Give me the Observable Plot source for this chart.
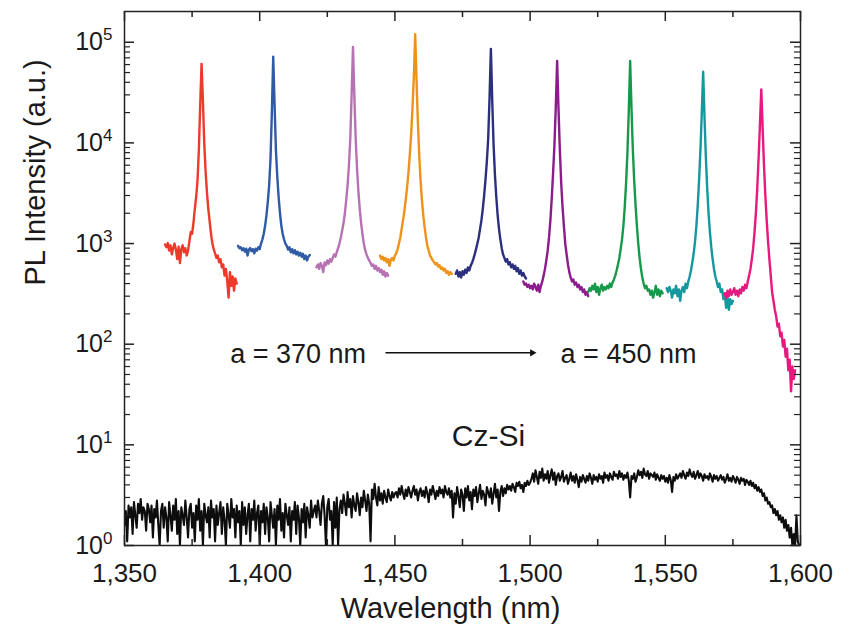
<!DOCTYPE html>
<html><head><meta charset="utf-8">
<script src="https://cdn.jsdelivr.net/npm/d3@7"></script>
<script src="https://cdn.jsdelivr.net/npm/@observablehq/plot@0.6"></script>
<style>body{margin:0;background:#fff} svg{display:block}</style>
</head><body><div id="chart"></div>
<script>
// ---------- data ----------
const xTicks = [1350, 1400, 1450, 1500, 1550, 1600];
const xMinorTicks = [1375, 1425, 1475, 1525, 1575];
const yTicks = [1, 10, 100, 1000, 10000, 100000];
const yMinorTicks = [2,3,4,5,6,7,8,9,20,30,40,50,60,70,80,90,200,300,400,500,600,700,800,900,
  2000,3000,4000,5000,6000,7000,8000,9000,20000,30000,40000,50000,60000,70000,80000,90000];

const xLabel = "Wavelength (nm)";
const yLabel = "PL Intensity (a.u.)";

// lattice constant of each photonic crystal cavity spectrum
const seriesNames = ["a = 370 nm","a = 380 nm","a = 390 nm","a = 400 nm","a = 410 nm","a = 420 nm","a = 430 nm","a = 440 nm","a = 450 nm"];
const seriesStart = [1365, 1392, 1421, 1444.5, 1472.5, 1497.5, 1521.5, 1550.5, 1572]; // nm, first sample
const sampleStep = 0.5; // nm

const pl370 = [980,920,1010,850,960,780,900,1000,870,700,930,640,880,960,820,900,760,850,1050,1300,1250,1600,2200,2900,4200,8500,24000,61000,26000,9800,5200,3200,2200,1650,1250,1000,880,800,720,760,650,700,580,620,480,560,420,290,520,380,470,340,450,400];
const pl380 = [950,900,920,860,900,830,890,760,870,900,840,880,800,890,850,920,880,1000,1100,1250,1500,1900,2600,3800,7000,20000,72000,24000,8500,4600,2900,2000,1500,1250,1100,1000,950,870,920,820,880,800,860,780,830,760,810,740,790,700,760,680,740,770];
const pl390 = [580,620,560,640,600,520,650,610,680,630,700,660,720,780,740,820,900,1000,1150,1350,1600,2000,2700,3800,6000,11000,30000,90000,30000,11000,5500,3300,2200,1600,1250,1000,860,780,720,680,640,600,620,560,600,540,570,520,550,490,530,470,510,480];
const pl400 = [760,700,740,680,720,650,700,600,690,720,680,760,800,880,1000,1150,1400,1700,2100,2700,3600,5000,7500,12000,22000,45000,120000,42000,16000,7500,4200,2700,1900,1450,1150,950,850,760,720,680,650,620,640,590,610,560,580,540,560,510,530,490,520,500];
const pl410 = [500,540,470,520,460,530,490,550,510,580,540,600,640,700,780,880,1000,1150,1400,1700,2200,3000,4300,6500,11000,28000,86000,26000,9500,4800,2900,1900,1400,1100,900,780,720,660,700,620,650,580,620,560,600,530,570,500,540,480,510,470,450];
const pl420 = [420,390,400,370,390,360,380,350,400,370,340,390,330,380,420,480,560,680,850,1150,1700,2800,5000,9500,23000,65000,22000,8500,4000,2300,1500,1000,780,620,520,460,420,440,390,410,370,390,350,370,330,350,310,330,300];
const pl430 = [330,360,340,380,350,400,330,370,310,360,390,340,370,350,380,360,400,370,410,440,480,540,620,720,880,1100,1500,2300,4000,8000,21000,65000,22000,8500,4200,2400,1500,1000,720,560,460,400,360,380,340,350,310,340,290,330,380,310,350,300,340,320];
const pl440 = [360,330,370,340,290,350,320,380,300,350,270,340,370,330,400,360,420,470,540,650,800,1050,1500,2400,4300,8500,20000,51000,18000,7200,3500,2000,1300,920,700,560,470,420,370,400,330,350,280,320,230,300,220,280,250,270];
const pl450 = [320,290,340,300,350,310,330,360,310,340,300,350,320,370,340,390,360,420,480,560,700,900,1300,2000,3500,7000,15000,34000,14000,6000,3000,1700,1050,700,480,330,270,220,190,150,160,120,130,95,110,75,90,55,70,34,60,45,55];
const seriesValues = [pl370, pl380, pl390, pl400, pl410, pl420, pl430, pl440, pl450];
const seriesColors = ["#ee3a2a","#2f5aa6","#b772b3","#ef9219","#2b2f7e","#8c1c8c","#17994b","#15979e","#e8187f"];

// unpatterned Cz-Si reference, 1350 to 1600 nm every 0.5 nm
const czStart = 1350;
const czSi = [
1.6,2.2,1.1,2.5,1.9,2.4,1.3,2.7,2.0,1.5,2.6,2.1,2.9,1.8,2.4,2.2,1.4,2.6,2.3,1.7,
2.5,1.2,2.3,1.9,2.8,1.6,1.0,2.2,2.6,1.5,2.4,1.9,1.1,2.7,2.0,1.4,2.5,1.8,2.9,1.3,
2.2,1.0,2.4,2.0,1.6,2.8,1.9,1.2,2.3,2.6,1.5,2.1,1.1,2.5,1.8,2.9,1.4,2.2,1.0,2.6,
2.0,1.7,2.4,1.2,2.8,1.9,2.3,1.1,2.5,1.6,2.1,2.7,1.3,2.4,1.8,1.0,2.6,2.0,1.5,2.9,
1.9,2.3,1.2,2.5,1.7,2.2,1.0,2.7,1.6,2.4,1.3,2.0,2.6,1.1,2.3,1.8,2.8,1.4,2.1,2.5,
1.0,2.2,1.7,2.6,1.3,2.4,1.9,1.1,2.7,2.0,1.5,2.3,1.0,2.5,1.8,2.9,1.4,2.1,1.2,2.6,
2.0,1.6,2.4,1.1,2.2,1.8,2.7,1.3,2.5,1.9,1.0,2.3,1.7,2.6,1.2,2.4,2.0,1.5,2.8,1.9,
2.2,
2.5,1.9,2.8,2.2,1.6,2.6,3.1,2.0,1.0,2.4,2.9,1.8,2.2,1.0,2.7,1.5,3.0,1.0,2.3,2.8,
2.1,3.2,2.6,2.0,3.4,2.4,2.9,1.9,3.1,2.5,2.2,3.3,2.7,2.0,3.0,2.4,3.5,2.8,2.2,3.2,
2.6,1.1,3.6,2.9,4.1,3.0,2.5,3.8,2.8,3.3,2.6,3.5,3.0,2.7,3.6,3.1,2.8,3.4,3.0,3.3,
3.4,3.0,3.7,3.2,3.9,3.3,2.9,3.6,3.1,3.8,3.4,3.0,3.5,3.9,3.2,3.6,2.8,3.4,3.7,3.1,
3.5,3.0,3.8,3.3,2.7,3.6,3.2,3.9,3.4,2.9,3.5,3.1,3.8,3.3,3.6,3.0,3.9,3.4,3.2,3.7,
3.0,3.5,1.9,3.3,2.6,3.8,3.1,2.4,3.6,3.2,2.2,3.7,3.0,3.9,2.8,3.4,2.3,3.6,3.1,3.8,
2.7,3.3,4.0,2.9,3.5,3.2,2.5,3.8,3.4,3.0,3.7,2.6,3.3,4.1,3.0,3.6,2.2,3.4,3.9,3.1,
3.7,3.3,4.0,3.6,3.9,3.5,4.1,3.8,3.4,4.2,3.9,4.3,3.7,4.0,3.4,4.2,3.9,4.4,4.0,4.2,
4.6,5.2,4.3,5.6,4.8,4.1,5.4,4.7,5.8,4.4,5.1,4.6,5.5,4.2,5.0,5.7,4.5,5.3,4.0,4.9,
5.2,4.4,4.8,5.5,4.3,4.7,5.0,4.1,4.6,5.3,4.4,4.9,4.2,5.1,4.5,3.8,4.8,4.3,5.0,4.6,
4.2,4.9,4.4,5.2,4.7,4.1,5.0,4.5,4.8,4.3,5.1,4.6,4.9,4.2,5.3,4.7,5.0,4.4,5.2,4.8,
4.5,5.4,4.9,5.1,4.6,5.5,4.8,5.2,4.5,5.0,4.7,5.3,4.4,3.0,4.9,4.6,5.2,4.3,4.8,5.6,
5.0,5.4,4.7,5.8,5.1,4.9,5.5,4.6,5.2,5.0,4.8,5.3,4.5,5.1,4.7,4.4,5.0,4.6,4.9,4.3,
4.7,4.2,5.0,4.5,3.4,4.8,4.4,5.1,4.6,4.9,5.2,4.7,5.5,5.0,4.6,5.3,4.9,5.7,5.1,4.8,
5.4,4.6,5.0,5.5,4.7,5.2,4.9,4.4,5.1,4.7,4.9,4.5,5.2,4.8,4.3,5.0,4.6,4.9,4.4,4.7,
5.0,4.5,4.8,4.2,4.6,5.1,4.4,4.7,4.3,4.9,4.6,4.2,4.8,4.5,4.1,4.7,4.4,4.6,4.0,4.5,
4.3,4.0,4.4,3.9,4.2,3.7,4.0,3.5,3.8,3.4,3.6,3.1,3.3,2.8,3.0,2.6,2.7,2.4,2.5,2.1,
2.3,2.0,2.2,1.8,2.0,1.7,1.9,1.5,1.8,1.4,1.6,1.2,1.5,1.0,1.3,1.0,2.0,1.1,1.0,1.0
];

// annotations
const annotText = ["a = 370 nm", "a = 450 nm", "Cz-Si"];
const annotWl = [1414.2, 1536.4, 1484.6];
const annotPL = [80, 80, 12.2];
const arrowWl = [1446.5, 1500.8];
const arrowPL = [82, 82];

// ---------- build tables ----------
const rows = seriesNames.flatMap((name, i) =>
  seriesValues[i].map((v, j) => ({series: name, wl: seriesStart[i] + j * sampleStep, pl: v})));
const czRows = czSi.map((v, j) => ({wl: czStart + j * sampleStep, pl: v}));
const annots = annotText.map((t, i) => ({t, wl: annotWl[i], pl: annotPL[i]}));
const arrow = [{x1: arrowWl[0], x2: arrowWl[1], y1: arrowPL[0], y2: arrowPL[1]}];

const W = 845, H = 638, mL = 124, mR = 45, mT = 11, mB = 93;
const iW = W - mL - mR, iH = H - mT - mB;
const font = "'Liberation Sans', Arial, Helvetica, sans-serif";

const plot = Plot.plot({
  width: W, height: H,
  marginLeft: mL, marginRight: mR, marginTop: mT, marginBottom: mB,
  style: {fontFamily: font, fontSize: "26px", color: "#1a1a1a", background: "white"},
  x: {domain: [1350, 1600]},
  y: {type: "log", domain: [1, 2.02e5]},
  color: {domain: seriesNames, range: seriesColors},
  marks: [
    Plot.line(czRows, {x: "wl", y: "pl", stroke: "#0d0d0d", strokeWidth: 2.1, clip: true}),
    Plot.line(rows, {x: "wl", y: "pl", z: "series", stroke: "series", strokeWidth: 2.4, clip: true}),
    // inward ticks
    Plot.tickX(xTicks, {x: d => d, insetTop: iH - 10, stroke: "#222", strokeWidth: 1.5}),
    Plot.tickX(xTicks, {x: d => d, insetBottom: iH - 10, stroke: "#222", strokeWidth: 1.5}),
    Plot.tickX(xMinorTicks, {x: d => d, insetTop: iH - 6, stroke: "#222", strokeWidth: 1.5}),
    Plot.tickX(xMinorTicks, {x: d => d, insetBottom: iH - 6, stroke: "#222", strokeWidth: 1.5}),
    Plot.tickY(yTicks, {y: d => d, insetRight: iW - 10, stroke: "#222", strokeWidth: 1.5}),
    Plot.tickY(yTicks, {y: d => d, insetLeft: iW - 10, stroke: "#222", strokeWidth: 1.5}),
    Plot.tickY(yMinorTicks, {y: d => d, insetRight: iW - 6, stroke: "#222", strokeWidth: 1.2}),
    Plot.tickY(yMinorTicks, {y: d => d, insetLeft: iW - 6, stroke: "#222", strokeWidth: 1.2}),
    // tick labels
    Plot.axisX(xTicks, {anchor: "bottom", tickSize: 0, tickPadding: 18, tickFormat: d3.format(","), label: null, fontSize: 26}),
    Plot.axisY(yTicks, {anchor: "left", tickSize: 0, tickPadding: 12, tickFormat: d => "10^" + Math.round(Math.log10(d)), label: null, fontSize: 25}),
    Plot.frame({stroke: "#222", strokeWidth: 1.5}),
    // axis titles
    Plot.text([xLabel], {frameAnchor: "bottom", dx: -12, dy: 72, fontSize: 29}),
    Plot.text([yLabel], {frameAnchor: "left", rotate: -90, dx: -89, dy: 7, fontSize: 29}),
    // annotations
    Plot.text(annots.slice(0, 2), {x: "wl", y: "pl", text: "t", fontSize: 27}),
    Plot.text(annots.slice(2), {x: "wl", y: "pl", text: "t", fontSize: 30}),
    Plot.link(arrow, {x1: "x1", x2: "x2", y1: "y1", y2: "y2", stroke: "#111", strokeWidth: 1.5}),
    Plot.dot(arrow, {x: "x2", y: "y2", symbol: "triangle2", rotate: 90, r: 3.5, fill: "#111", stroke: "none"})
  ]
});

// superscript exponents on the y tick labels
plot.querySelectorAll("text").forEach(t => {
  const m = /^10\^(\d)$/.exec(t.textContent);
  if (!m) return;
  t.textContent = "";
  const ns = "http://www.w3.org/2000/svg";
  const a = document.createElementNS(ns, "tspan"); a.textContent = "10";
  const b = document.createElementNS(ns, "tspan"); b.textContent = m[1];
  b.setAttribute("dy", "-10"); b.setAttribute("font-size", "17");
  t.appendChild(a); t.appendChild(b);
});
document.getElementById("chart").appendChild(plot);
</script>
</body></html>
